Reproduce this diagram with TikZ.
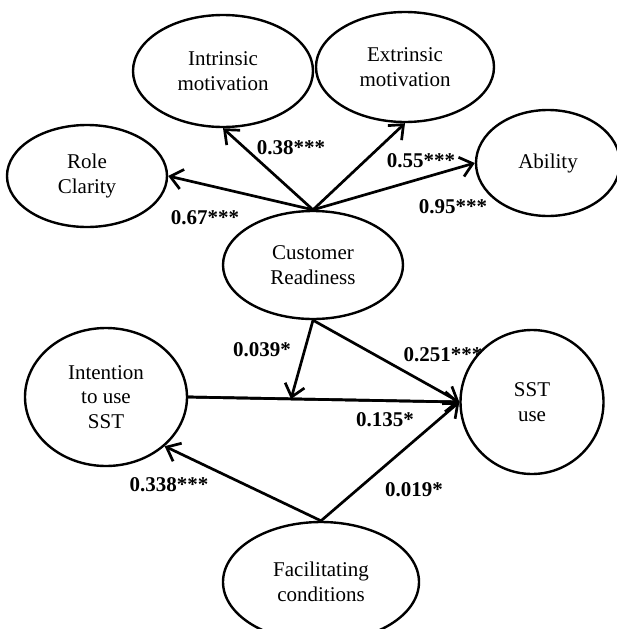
\documentclass[tikz,border=0pt]{standalone}
\usepackage{fontspec}
\setmainfont{Liberation Serif}
\usetikzlibrary{arrows.meta,shapes.geometric}

\begin{document}
\begin{tikzpicture}[x=1pt,y=-1pt,
    latent/.style={ellipse,draw,line width=2.4pt,inner sep=0pt,align=center,
      font=\fontsize{21}{24.5}\selectfont},
    effect/.style={line width=2.7pt,-{Straight Barb[length=12pt,width=20pt,line width=2.7pt]}},
    coef/.style={inner sep=0pt,font=\fontsize{21}{24}\selectfont\bfseries}]
  \useasboundingbox (0,0) rectangle (617,629);
  % constructs
  \node[latent,minimum width=180pt,minimum height=112pt] (intr) at (223,71) {Intrinsic\\motivation};
  \node[latent,minimum width=178pt,minimum height=110pt] (extr) at (405,67) {Extrinsic\\motivation};
  \node[latent,minimum width=160pt,minimum height=102pt] (role) at (87,176) {Role\\Clarity};
  \node[latent,minimum width=144pt,minimum height=106pt] (abil) at (548,163) {Ability};
  \node[latent,minimum width=180pt,minimum height=108pt] (cust) at (313,265) {Customer\\Readiness};
  \node[latent,minimum width=162pt,minimum height=138pt] (intent) at (106,397) {Intention\\to use\\SST};
  \node[latent,minimum width=143pt,minimum height=144pt] (sst) at (532,402) {SST\\use};
  \node[latent,minimum width=196pt,minimum height=120pt] (facil) at (321,582) {Facilitating\\conditions};
  \coordinate (mod) at (291,399);
  % paths
  \draw[effect] (cust.north) -- (role.east);
  \draw[effect] (cust.north) -- (intr.south);
  \draw[effect] (cust.north) -- (extr.south);
  \draw[effect] (cust.north) -- (abil.west);
  \draw[line width=2.7pt] (intent.east) -- (sst.west);
  \draw[effect] (cust.south) -- (mod);
  \draw[effect] (cust.south) -- (sst.west);
  \draw[effect] (intent.east) -- (sst.west);
  \draw[effect] (facil.north) -- (intent.-40);
  \draw[effect] (facil.north) -- (sst.west);
  % coefficients
  \node[coef] (c1) at (291,148) {0.38***};
  \node[coef] (c2) at (421,161) {0.55***};
  \node[coef] (c3) at (205,218) {0.67***};
  \node[coef] (c4) at (453,207) {0.95***};
  \node[coef] (c5) at (262,350) {0.039*};
  \node[coef] (c6) at (443,355) {0.251***};
  \node[coef] (c7) at (385,420) {0.135*};
  \node[coef] (c8) at (169,485) {0.338***};
  \node[coef] (c9) at (414,490) {0.019*};
\end{tikzpicture}
\end{document}
